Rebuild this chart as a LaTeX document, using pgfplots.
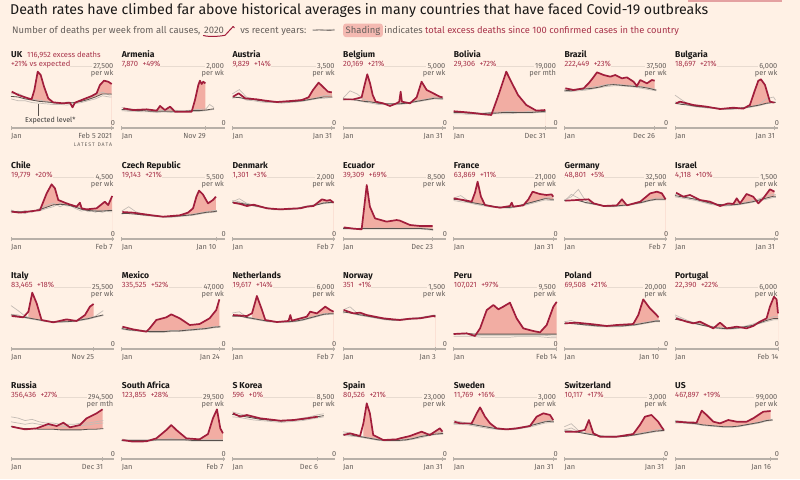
\documentclass[border=0pt]{standalone}
\usepackage{graphicx}
\usepackage{pgfplots}
\usepackage{pgfplotstable}
\pgfplotsset{compat=1.18}
\usepackage{fontspec}
\setmainfont{Fira Sans}
\definecolor{bg}{HTML}{FFF1E5}
\definecolor{curc}{HTML}{A11D3B}
\definecolor{statc}{HTML}{A8334A}
\definecolor{shade}{HTML}{F2ADA3}
\definecolor{expc}{HTML}{57504C}
\definecolor{histc}{HTML}{C4BCB5}
\definecolor{labc}{HTML}{66605C}
\definecolor{basec}{HTML}{B8B0A8}
\definecolor{gridc}{HTML}{E8DBD0}
\definecolor{inkc}{HTML}{1A1817}
\newcommand{\namef}{\fontsize{8.6}{9}\selectfont\bfseries}
\newcommand{\statf}{\fontsize{7.6}{8}\selectfont}
\newcommand{\labf}{\fontsize{7.4}{8}\selectfont}
\newcommand{\subf}{\fontsize{9.45}{11}\selectfont}

\pgfplotsset{panel/.style={
  scale only axis, width=103pt, height=62pt,
  xmin=0, xmax=58.6, ymin=0, ymax=100,
  hide axis, clip=false, anchor=south west}}
\tikzset{lab/.style={inner sep=0pt, text=labc, font=\labf}}

\newcommand{\stdplots}[4]{%
  \draw[gridc, line width=0.6pt] (rel axis cs:0,1) -- (rel axis cs:1,1);
  \addplot[draw=none, fill=shade, restrict x to domain=#3:60] table[x=w,y=c]{#1} \closedcycle;
  \addplot[draw=none, fill=bg] table[x=w,y=e]{#2} \closedcycle;
  \addplot[histc, line width=0.7pt] table[x=w,y=a]{#2};
  \addplot[histc, line width=0.7pt] table[x=w,y=b]{#2};
  \addplot[expc, line width=0.8pt] table[x=w,y=e]{#2};
  \addplot[curc, line width=1.7pt, line join=round] table[x=w,y=c]{#1};
  \draw[basec, line width=1.4pt] (rel axis cs:0,0) -- (rel axis cs:1,0);
  \draw[basec, line width=0.8pt] (axis cs:0,0) ++(0,-2pt) -- ++(0,4.5pt);
  \draw[basec, line width=0.8pt] (axis cs:#4,0) ++(0,-2pt) -- ++(0,4.5pt);
}
% #1 x0, #2 baseline y, #3 end week, #4 end label, #5 cur, #6 hist, #7 shade start, #8 texts
\newcommand{\pax}[8]{%
  \begin{axis}[panel, at={(#1pt,-#2pt)}]
  \stdplots{#5}{#6}{#7}{#3}
  \node[lab, anchor=base west] at ([yshift=-10.3pt]axis cs:0,0) {Jan};
  \node[lab, anchor=base east] at ([xshift=0.6pt,yshift=-10.3pt]axis cs:#3,0) {#4};
  #8
  \end{axis}}
\newcommand{\ptext}[4]{%
  \node[anchor=base west, inner sep=0pt, text=inkc, font=\namef] at ([yshift=71pt]rel axis cs:0,0) {#1};
  \node[anchor=base west, inner xsep=0pt, inner ysep=1pt, fill=bg, text=statc, font=\statf] at ([yshift=62pt]rel axis cs:0,0) {#2};
  \node[lab, anchor=base east, inner xsep=1.5pt, inner ysep=1pt, fill=bg] at ([xshift=1pt,yshift=59.5pt]rel axis cs:1,0) {#3};
  \node[lab, anchor=base east, inner xsep=1.5pt] at ([xshift=1pt,yshift=52.5pt]rel axis cs:1,0) {#4};
  \node[lab, anchor=base] at ([xshift=-1pt,yshift=2.5pt]rel axis cs:1,0) {0};}

% ---------------- data: percent of panel top value; w = weeks since 1 Jan 2020
\pgfplotstableread{
w c
0.4 58.6
4.2 53.2
8 49.5
11.7 46.2
13.3 61.3
15.2 90.9
16.9 85.5
18.8 66.7
21.2 47.8
24 41.4
29.7 39.8
33.5 40.9
35 33.3
36.4 40.9
41.1 46.2
45.9 51.6
48.7 55.9
50.6 69.4
52.9 76.3
55.3 74.7
57.3 71
}\cUK
\pgfplotstableread{
w e a b
0 51 55 47
4 50 56 44
8 47 50 44
12 45 46 41
16 43 45 40
20 42 43 39
24 41 40 38
28 40 39 38
32 40 42 37
36 41 40 39
40 43 44 41
44 46 48 44
48 50 53 47
52 55 58 52
56 55 53 50
57.3 55 54 50
}\hUK
\pgfplotstableread{
w c
0.9 31.7
6.6 29
14.2 30.1
19.9 28
21.8 35.5
24.6 29
27.5 34.4
30.3 26.3
35.1 26.3
39.8 26.3
41.7 45.2
43.6 69.4
44.5 76.3
45.5 71
46.4 74.7
47.6 72
}\cARM
\pgfplotstableread{
w e a b
0 30 33 28
4 29 31 27
8 28 30 27
12 28 29 26
16 27 28 26
20 27 29 25
24 27 28 26
28 27 30 25
32 27 28 26
36 27 28 26
40 28 29 27
44 28 30 27
48 29 31 28
50 30 38 29
52.5 31 33 30
}\hARM
\pgfplotstableread{
w c
0.4 50.5
3.6 55.9
7.4 47.8
14 46.2
18.8 44.1
25.4 41.9
33 43.5
39.6 45.2
43.4 49.5
45.9 61.3
49.1 73.1
51.5 66.7
54.4 58.6
56.6 57.5
}\cAUT
\pgfplotstableread{
w e a b
0 50 55 48
4 49 62 50
8 47 50 45
12 46 47 44
16 44 44 42
20 43 43 41
24 42 41 41
28 42 42 40
32 42 43 41
36 43 42 42
40 44 44 43
44 46 46 45
48 48 49 47
52 50 52 48
56 50 53 49
57 50 53 49
}\hAUT
\pgfplotstableread{
w c
0.2 46.2
5.9 46.2
10.6 49.5
12.5 72
13.8 86.6
15.4 72
16.9 53.2
18.6 42.5
22.9 39.8
26.7 35.5
30.5 39.8
32 42.5
32.8 58.6
33.5 42.5
38.1 39.8
41.9 49.5
44.7 74.7
47.6 61.3
51.4 55.9
55.1 50.5
56.6 49.5
}\cBEL
\pgfplotstableread{
w e a b
0 47 48 45
4 46 60 47
8 45 55 44
12 43 46 42
16 42 42 40
20 40 40 38
24 39 39 38
28 39 38 37
32 39 41 38
36 40 40 39
40 42 43 41
44 44 45 43
48 46 47 45
52 48 50 47
56 48 50 46
57 48 50 46
}\hBEL
\pgfplotstableread{
w c
0 27
4.3 26
8.7 25
13 23.5
17.4 22
21.4 21
25.7 55
29.9 90.9
33.2 72
36.6 53.2
41.3 37.1
47 28
52.1 29
}\cBOL
\pgfplotstableread{
w e a b
0 25 27 23
4 25 26 23
8 24 25 22
12 24 25 22
16 23 24 22
20 24 25 22
24 24 26 23
28 25 26 23
32 25 27 23
36 25 26 24
40 25 26 24
44 25 27 24
48 26 27 25
52.3 27 28 25
}\hBOL
\pgfplotstableread{
w c
0.6 64
5.3 61.3
11 64
13.8 72
16.1 80.1
18.6 89.8
22.4 85.5
26.2 82.8
29 85.5
32.8 80.1
35.6 81.7
39.4 74.7
41.3 67.7
43.2 77.4
47 72
49.8 77.4
51.4 76.3
}\cBRA
\pgfplotstableread{
w e a b
0 61 63 59
4 60 62 59
8 62 63 60
12 63 64 61
16 64 66 63
20 66 68 65
24 69 70 67
28 70 71 68
32 69 70 68
36 68 69 67
40 67 68 66
44 66 67 64
48 64 65 62
52.3 61 62 60
}\hBRA
\pgfplotstableread{
w c
0.6 39.8
2.8 42.5
10.4 37.1
18 34.4
25.6 30.6
33.2 32.8
38.8 31.2
42.6 37.1
45.5 61.3
47.4 76.3
48.9 78.5
51.2 69.4
54 42.5
56.6 40.9
}\cBUL
\pgfplotstableread{
w e a b
0 40 53 42
4 38 45 40
8 37 38 36
12 35 35 34
16 34 33 33
20 33 32 32
24 32 31 31
28 31 30 30
32 31 31 30
36 32 31 31
40 33 33 32
44 35 35 34
48 37 38 36
52 40 47 39
56 41 50 42
57.2 41 45 42
}\hBUL
\pgfplotstableread{
w c
0.4 44.1
5.1 42.5
12.7 45.2
16.5 46.8
20.3 73.7
23.1 88.2
25 81.7
26.9 62.9
31.6 57.5
37.3 52.2
39.2 58.6
40.2 49.5
43 47.8
48.7 49.5
53.4 60.2
55.3 54.8
57.6 69.4
}\cCHL
\pgfplotstableread{
w e a b
0 45 47 42
4 44 42 45
8 44 46 41
12 45 43 46
16 47 49 45
20 51 54 49
24 55 58 52
28 56 52 58
32 55 58 53
36 52 50 54
40 48 45 49
44 46 48 44
48 45 43 46
52 45 47 43
56 46 44 47
57.6 46 44 47
}\hCHL
\pgfplotstableread{
w c
0.4 43.5
6.4 42.5
15.9 38.7
23.5 36
33 38.2
37.7 42.5
40.6 49.5
42.5 68.3
44 78
46.2 72
49.1 57.5
51.9 62.9
53.6 68.3
}\cCZE
\pgfplotstableread{
w e a b
0 41 45 40
4 41 52 43
8 40 44 41
12 39 40 38
16 38 38 37
20 37 37 36
24 36 36 35
28 36 36 35
32 37 37 36
36 38 38 37
40 39 40 38
44 41 42 40
48 43 44 42
52 44 46 43
54.2 45 46 44
}\hCZE
\pgfplotstableread{
w c
0.4 58.6
4.5 56.5
8.3 53.2
12.1 55.4
19.7 49.5
27.3 47.8
33 48.9
38.7 49.5
42.4 52.2
46.2 53.2
51 64
53.8 61.8
55.7 62.9
57.6 58.6
}\cDEN
\pgfplotstableread{
w e a b
0 59 60 62
4 58 65 60
8 56 58 57
12 54 55 53
16 52 52 51
20 50 50 49
24 48 48 47
28 48 47 47
32 48 47 48
36 49 49 48
40 51 52 50
44 53 54 52
48 55 56 55
52 58 59 57
56 59 60 58
57.6 59 60 58
}\hDEN
\pgfplotstableread{
w c
0.4 18.8
5.9 16.7
10.6 15.6
12.1 52.2
13.5 87.1
15.3 52.2
18.2 33.3
24.8 28
30.5 30.6
32.4 29.6
38.1 22.6
43.8 21
51 21
}\cECU
\pgfplotstableread{
w e a b
0 17 18 16
4 17 18 16
8 17 17 16
12 17 18 16
16 17 17 16
20 17 18 16
24 17 17 16
28 17 18 16
32 17 17 16
36 17 18 16
40 17 17 16
44 17 18 16
48 16 17 15
51.3 15 16 14
}\hECU
\pgfplotstableread{
w c
0 65.6
5.5 62.9
10.2 60.2
12.1 74.7
13.6 92.5
15.5 68.3
17.8 54.8
22.5 52.2
26.3 50.5
32 53.2
33 58.6
33.9 52.2
39.6 54.3
42.5 64
44.9 76.3
49 72.6
52.8 71
55.7 72
56.6 68.3
}\cFRA
\pgfplotstableread{
w e a b
0 64 66 62
4 63 70 60
8 60 62 59
12 58 57 56
16 56 55 54
20 54 53 52
24 52 51 51
28 51 51 50
32 51 50 50
36 53 52 52
40 56 55 54
44 59 58 57
48 62 62 60
52 65 66 63
56 64 68 62
57 64 68 62
}\hFRA
\pgfplotstableread{
w c
0.6 61.8
7.2 62.9
13.8 64
16.7 57.5
22.4 53.2
29.9 54.3
32.8 64
35.6 54.3
43.2 60.2
48.9 73.7
52.7 76.3
55.5 73.7
57.6 64
}\cGER
\pgfplotstableread{
w e a b
0 62 63 61
4 62 68 72
8 62 80 66
12 59 62 58
16 57 57 56
20 55 55 54
24 53 53 52
28 53 53 52
32 54 54 53
36 55 55 54
40 57 57 56
44 59 60 58
48 62 63 61
52 64 66 63
56 64 66 63
57.6 64 66 63
}\hGER
\pgfplotstableread{
w c
0.6 74.7
4.7 68.3
8.5 71
14.2 62.9
19.9 60.2
25.6 53.2
30.3 57.5
33.2 56.5
35.1 65.6
37 57.5
40.7 72.6
44.5 68.3
47.4 57.5
50.2 65.6
54 80.1
56.6 76.3
}\cISR
\pgfplotstableread{
w e a b
0 70 72 68
4 68 70 66
8 66 67 64
12 64 63 62
16 61 60 59
20 58 57 56
24 56 55 54
28 55 54 53
32 55 55 54
36 56 57 55
40 58 59 57
44 60 62 59
48 63 65 62
52 66 69 64
56 69 72 67
57.4 69 72 67
}\hISR
\pgfplotstableread{
w c
0.4 53.2
7 51.1
9.9 60.2
12.1 90.9
14.6 73.7
17.4 46.8
24.1 43
31.6 47.8
37.3 45.2
42.1 54.8
44.9 68.3
47 72.6
}\cITA
\pgfplotstableread{
w e a b
0 55 70 56
4 53 62 55
8 51 53 50
12 49 49 48
16 47 47 46
20 45 45 44
24 44 44 43
28 44 43 43
32 44 45 44
36 45 46 44
40 47 48 46
44 49 50 48
48 52 53 51
52.5 55 62 54
}\hITA
\pgfplotstableread{
w c
0.4 36
6.4 31.7
14 28
15.9 33.3
19.7 46.8
25.4 51.1
28.2 55.9
33 49.5
38.7 38.7
44.3 40.3
50 49.5
53.8 62.9
55.6 80.1
}\cMEX
\pgfplotstableread{
w e a b
0 33 35 32
4 31 33 30
8 30 31 29
12 29 30 28
16 28 29 27
20 28 29 27
24 28 29 27
28 29 30 28
32 29 30 28
36 30 31 29
40 31 32 30
44 32 33 31
48 33 34 32
52 35 36 34
56.1 36 37 35
}\hMEX
\pgfplotstableread{
w c
0.4 54.8
8.3 53.2
11.2 57.5
14 85.5
16.9 62.9
18.8 46.8
25.4 43.5
32 45.2
33 54.8
33.9 45.7
42.4 52.2
44.3 60.2
48.1 57.5
52.9 68.3
55.7 62.9
57.6 60.2
}\cNED
\pgfplotstableread{
w e a b
0 53 58 54
4 53 60 55
8 51 52 50
12 49 50 48
16 47 47 46
20 45 45 44
24 44 44 43
28 44 43 43
32 44 44 43
36 45 46 44
40 47 48 46
44 50 51 49
48 53 54 52
52 56 57 55
56 57 58 56
57.6 57 58 56
}\hNED
\pgfplotstableread{
w c
0.4 62.9
5.9 57.5
9.7 58.6
13.5 54.8
22.9 49.5
28.6 47.8
32.4 46.8
38.1 48.9
43.8 49.5
51.3 53.2
52.6 52.2
}\cNOR
\pgfplotstableread{
w e a b
0 60 63 58
4 58 68 60
8 56 58 55
12 54 55 53
16 52 53 51
20 50 51 49
24 48 49 47
28 47 48 46
32 47 48 46
36 48 49 47
40 49 50 48
44 50 51 49
48 52 53 51
52 54 55 53
52.6 54 55 53
}\hNOR
\pgfplotstableread{
w c
0 24.2
7.4 25.3
12.1 21
15 33.3
18.8 62.9
22.6 71
25.4 64
28.2 68.3
32 74.7
35.8 49.5
39.6 33.3
45.3 29
49.1 26.9
52.9 38.7
56.7 68.3
58.6 76
}\cPER
\pgfplotstableread{
w e a b
0 25 23 20
4 25 23 20
8 25 23 20
12 24 22 20
16 24 22 19
20 24 22 19
24 24 22 19
28 24 22 19
32 24 22 19
36 24 22 20
40 24 22 20
44 24 22 20
48 24 22 20
52 24 22 19
56 24 21 18
58.6 24 21 18
}\hPER
\pgfplotstableread{
w c
0.4 41.4
7 42.5
16.5 39.8
24.1 37.1
29.8 38.7
39.2 40.3
42.1 54.8
44.9 80.1
48.7 65.6
52.5 54.8
53.6 51.1
}\cPOL
\pgfplotstableread{
w e a b
0 41 44 40
4 41 46 42
8 40 42 40
12 39 40 38
16 38 38 37
20 37 37 36
24 37 36 36
28 37 36 36
32 37 37 36
36 38 38 37
40 39 40 38
44 41 42 40
48 43 44 42
52 45 46 44
54.4 45 46 44
}\hPOL
\pgfplotstableread{
w c
0.6 49.5
6.6 44.1
10.4 41.4
14.2 44.1
18 38.7
21.8 33.3
25.6 42.5
29.4 33.3
35.1 36
40.7 33.3
44.5 37.1
48.3 44.1
52.1 49.5
54 68.3
56.3 84.4
57.8 80.1
58.6 57.5
}\cPOR
\pgfplotstableread{
w e a b
0 48 55 52
4 46 50 48
8 44 45 43
12 41 42 40
16 38 39 38
20 36 37 35
24 34 35 33
28 33 34 32
32 33 34 32
36 34 35 33
40 36 37 35
44 38 40 38
48 42 44 41
52 46 48 44
56 49 52 47
58.6 49 52 47
}\hPOR
\pgfplotstableread{
w c
0.4 52.2
8 47.8
14.6 49.5
21.2 56.5
26 53.2
29.8 58.6
33.5 51.1
39.2 54.8
43 65.6
48.7 73.7
52.1 80.1
}\cRUS
\pgfplotstableread{
w e a b
0 53 68 60
4 50 66 58
8 49 62 56
12 49 64 58
16 48 60 56
20 48 58 54
24 48 58 54
28 47 56 53
32 47 56 52
36 47 56 52
40 47 58 54
44 48 58 55
48 48 60 57
52.5 49 62 58
}\hRUS
\pgfplotstableread{
w c
0.4 30.6
6.4 28
14 28.5
19.7 33.3
25.4 46.8
28.2 54.8
31.1 46.8
36.8 33.3
44.3 31.7
49.1 40.3
51.9 65.6
54.2 80.1
56.1 49.5
57.6 41.4
}\cZAF
\pgfplotstableread{
w e a b
0 30 32 29
4 30 31 29
8 30 31 29
12 30 31 29
16 30 31 29
20 31 32 30
24 31 32 30
28 31 33 30
32 31 32 30
36 31 32 30
40 30 31 29
44 30 31 29
48 30 31 29
52 30 31 29
56 30 31 29
57.6 30 31 29
}\hZAF
\pgfplotstableread{
w c
0.4 73.7
4.5 68.3
8.3 71
15.9 65.6
27.3 61.8
34.9 62.9
42.4 65.6
48.6 68.3
}\cKOR
\pgfplotstableread{
w e a b
0 72 76 68
4 70 73 67
8 68 70 65
12 66 67 63
16 64 65 62
20 63 63 61
24 62 62 60
28 61 62 59
32 62 63 60
36 63 64 61
40 64 66 62
44 66 68 64
48 68 71 66
52 70 73 68
}\hKOR
\pgfplotstableread{
w c
0.4 38.7
4 41.4
9.7 37.1
11.6 57.5
13.5 89.8
15.3 73.7
17.2 38.7
22.9 30.6
30.5 31.7
32.4 33.3
38.1 37.1
44.7 44.1
49.4 38.7
55.1 49.5
56.6 44.1
}\cESP
\pgfplotstableread{
w e a b
0 40 44 38
4 39 42 37
8 37 38 36
12 35 36 34
16 33 34 32
20 31 32 30
24 30 31 29
28 30 32 29
32 30 31 29
36 31 32 30
40 33 34 32
44 36 37 34
48 38 40 37
52 40 43 39
56 41 43 40
57 41 43 40
}\hESP
\pgfplotstableread{
w c
0.4 60.2
3.6 57.5
10.2 57.5
13.1 73.7
15 83.3
17.8 68.3
20.7 57.5
24.4 49.5
30.1 47.8
35.8 49.5
43.4 53.2
47.2 68.3
51 73.7
54.8 71
56.6 62.9
}\cSWE
\pgfplotstableread{
w e a b
0 58 62 56
4 58 60 56
8 57 58 55
12 55 56 53
16 53 54 51
20 51 52 49
24 49 50 48
28 48 49 47
32 48 49 47
36 49 50 48
40 51 52 50
44 54 55 52
48 57 58 55
52 60 61 58
56 61 63 59
57 61 63 59
}\hSWE
\pgfplotstableread{
w c
0.4 44.1
7 44.1
11.7 46.8
14 62.9
16.5 41.4
20.3 36
29.8 36
39.2 40.3
43 54.8
45.9 68.3
49.6 71
53.4 60.2
55.5 51
56.6 46.8
}\cSUI
\pgfplotstableread{
w e a b
0 45 52 47
4 45 57 50
8 43 46 44
12 41 42 41
16 39 40 39
20 37 38 37
24 36 37 36
28 36 37 35
32 36 37 36
36 37 38 37
40 39 40 38
44 41 42 40
48 43 44 42
52 45 47 44
56 46 48 45
57 46 48 45
}\hSUI
\pgfplotstableread{
w c
0.6 60.2
6.6 59.1
12.3 58.6
15.2 78
18 71
21.8 60.2
25.6 57.5
30.3 62.9
35.1 60.2
40.7 60.2
44.5 65.6
50.2 76.3
54.4 77.4
}\cUSA
\pgfplotstableread{
w e a b
0 60 62 58
4 59 61 58
8 58 59 57
12 57 57 56
16 55 55 54
20 54 54 53
24 53 53 52
28 52 52 51
32 52 52 51
36 53 53 52
40 55 55 54
44 57 57 56
48 59 60 58
52 62 63 61
55.5 63 64 62
}\hUSA

\begin{document}
\begin{tikzpicture}[x=1pt,y=1pt]
\fill[bg] (0,0) rectangle (800,-479);
\useasboundingbox (0,0) rectangle (800,-479);
\fill[shade!75!curc!80] (688,0) rectangle (782,-1.5);

% title
\node[anchor=base west, inner sep=0pt, text=inkc] at (10,-14.5)
 {\resizebox{698pt}{!}{\fontsize{12}{14}\selectfont Death rates have climbed far above historical averages in many countries that have faced Covid-19 outbreaks}};
% subtitle
\node[anchor=base west, inner sep=0pt, font=\subf, text=labc] (s1) at (12,-33) {Number of deaths per week from all causes,};
\node[anchor=base west, inner sep=0pt, font=\subf, text=labc] (s2) at ([xshift=3.3pt]s1.base east) {2020};
\draw[curc, line width=1pt, line cap=round, line join=round]
 ([xshift=-0.5pt,yshift=-2.5pt]s2.base west) .. controls +(6pt,-1.8pt) and +(-4pt,-1pt) .. ([xshift=1pt,yshift=-2.2pt]s2.base east)
 -- ([xshift=9pt,yshift=6.5pt]s2.base east) -- ++(1.2pt,-1.2pt);
\node[anchor=base west, inner sep=0pt, font=\subf, text=labc] (s3) at ([xshift=16pt]s2.base east) {vs recent years:};
\draw[histc, line width=0.6pt] ([xshift=6pt,yshift=2.2pt]s3.base east) .. controls +(6pt,2.5pt) and +(-6pt,-2pt) .. ++(22pt,1.2pt);
\draw[histc, line width=0.6pt] ([xshift=6pt,yshift=3.4pt]s3.base east) .. controls +(8pt,-1.5pt) and +(-5pt,0pt) .. ++(22pt,0.4pt);
\draw[expc, line width=0.6pt] ([xshift=7pt,yshift=2.8pt]s3.base east) .. controls +(7pt,1pt) and +(-6pt,-1pt) .. ++(21pt,0.2pt);
\node[anchor=base west, inner xsep=2.5pt, inner ysep=2pt, rounded corners=2.5pt, fill=shade!85, font=\subf, text=labc] (s4) at (343,-33) {Shading};
\node[anchor=base west, inner sep=0pt, font=\fontsize{9.3}{11}\selectfont, text=labc] at ([xshift=1.2pt]s4.base east) {indicates \textcolor{statc}{total excess deaths since 100 confirmed cases in the country}};

% ---------- row 1
\pax{11}{128}{57.3}{Feb 5 2021}{\cUK}{\hUK}{10.5}{\ptext{UK}{+21\% vs expected}{27,500}{per wk}
  \node[anchor=base west, inner sep=0pt, text=statc, font=\statf] at ([xshift=16pt,yshift=71pt]rel axis cs:0,0) {116,952 excess deaths};
  \node[anchor=base west, inner sep=0pt, text=inkc!85, font=\fontsize{7.2}{8}\selectfont] at ([xshift=14pt,yshift=5.5pt]rel axis cs:0,0) {Expected level*};
  \draw[expc, line width=0.6pt] ([xshift=27.3pt,yshift=12.5pt]rel axis cs:0,0) -- ++(0,11.5pt);
  \node[lab, anchor=base east, font=\fontsize{5.2}{6}\selectfont] at ([xshift=0.6pt,yshift=-18pt]axis cs:57.3,0) {L\,A\,T\,E\,S\,T\ \ D\,A\,T\,A};}
\pax{121.7}{128}{47.6}{Nov 29}{\cARM}{\hARM}{11}{\ptext{Armenia}{7,870\hspace{0.6em}+49\%}{2,000}{per wk}}
\pax{232.3}{128}{56.6}{Jan 31}{\cAUT}{\hAUT}{10}{\ptext{Austria}{9,829\hspace{0.6em}+14\%}{3,500}{per wk}}
\pax{343}{128}{56.6}{Jan 31}{\cBEL}{\hBEL}{10}{\ptext{Belgium}{20,169\hspace{0.6em}+21\%}{5,000}{per wk}}
\pax{453.7}{128}{52.1}{Dec 31}{\cBOL}{\hBOL}{12}{\ptext{Bolivia}{29,306\hspace{0.6em}+72\%}{19,000}{per mth}}
\pax{564.3}{128}{51.4}{Dec 26}{\cBRA}{\hBRA}{11}{\ptext{Brazil}{222,449\hspace{0.6em}+23\%}{37,500}{per wk}}
\pax{675}{128}{56.6}{Jan 31}{\cBUL}{\hBUL}{10}{\ptext{Bulgaria}{18,697\hspace{0.6em}+21\%}{6,000}{per wk}}
% ---------- row 2
\pax{11}{239}{57.6}{Feb 7}{\cCHL}{\hCHL}{11}{\ptext{Chile}{19,779\hspace{0.6em}+20\%}{4,500}{per wk}}
\pax{121.7}{239}{53.6}{Jan 10}{\cCZE}{\hCZE}{10}{\ptext{Czech Republic}{19,143\hspace{0.6em}+21\%}{5,500}{per wk}}
\pax{232.3}{239}{57.6}{Feb 7}{\cDEN}{\hDEN}{10}{\ptext{Denmark}{1,301\hspace{0.6em}+3\%}{2,000}{per wk}}
\pax{343}{239}{51}{Dec 23}{\cECU}{\hECU}{10.5}{\ptext{Ecuador}{39,309\hspace{0.6em}+69\%}{8,500}{per wk}}
\pax{453.7}{239}{56.6}{Jan 31}{\cFRA}{\hFRA}{10}{\ptext{France}{63,869\hspace{0.6em}+11\%}{21,000}{per wk}}
\pax{564.3}{239}{57.6}{Feb 7}{\cGER}{\hGER}{10}{\ptext{Germany}{48,801\hspace{0.6em}+5\%}{32,500}{per wk}}
\pax{675}{239}{56.6}{Jan 31}{\cISR}{\hISR}{10}{\ptext{Israel}{4,118\hspace{0.6em}+10\%}{1,500}{per wk}}
% ---------- row 3
\pax{11}{349}{47}{Nov 25}{\cITA}{\hITA}{8}{\ptext{Italy}{83,465\hspace{0.6em}+18\%}{25,500}{per wk}}
\pax{121.7}{349}{55.6}{Jan 24}{\cMEX}{\hMEX}{11}{\ptext{Mexico}{335,525\hspace{0.6em}+52\%}{47,000}{per wk}}
\pax{232.3}{349}{57.6}{Feb 7}{\cNED}{\hNED}{10}{\ptext{Netherlands}{19,617\hspace{0.6em}+14\%}{6,000}{per wk}}
\pax{343}{349}{52.6}{Jan 3}{\cNOR}{\hNOR}{10}{\ptext{Norway}{351\hspace{0.6em}+1\%}{1,500}{per wk}}
\pax{453.7}{349}{58.6}{Feb 14}{\cPER}{\hPER}{11}{\ptext{Peru}{107,021\hspace{0.6em}+97\%}{9,500}{per wk}}
\pax{564.3}{349}{53.6}{Jan 10}{\cPOL}{\hPOL}{10}{\ptext{Poland}{69,508\hspace{0.6em}+21\%}{20,000}{per wk}}
\pax{675}{349}{58.6}{Feb 14}{\cPOR}{\hPOR}{10}{\ptext{Portugal}{22,390\hspace{0.6em}+22\%}{6,000}{per wk}}
% ---------- row 4
\pax{11}{459}{52.1}{Dec 31}{\cRUS}{\hRUS}{11}{\ptext{Russia}{356,436\hspace{0.6em}+27\%}{294,500}{per mth}}
\pax{121.7}{459}{57.6}{Feb 7}{\cZAF}{\hZAF}{11}{\ptext{South Africa}{123,855\hspace{0.6em}+28\%}{29,500}{per wk}}
\pax{232.3}{459}{48.6}{Dec 6}{\cKOR}{\hKOR}{7}{\ptext{S Korea}{596\hspace{0.6em}+0\%}{8,500}{per wk}}
\pax{343}{459}{56.6}{Jan 31}{\cESP}{\hESP}{10}{\ptext{Spain}{80,526\hspace{0.6em}+21\%}{23,000}{per wk}}
\pax{453.7}{459}{56.6}{Jan 31}{\cSWE}{\hSWE}{10}{\ptext{Sweden}{11,769\hspace{0.6em}+16\%}{3,000}{per wk}}
\pax{564.3}{459}{56.6}{Jan 31}{\cSUI}{\hSUI}{10}{\ptext{Switzerland}{10,117\hspace{0.6em}+17\%}{3,000}{per wk}}
\pax{675}{459}{54.4}{Jan 16}{\cUSA}{\hUSA}{10}{\ptext{US}{467,897\hspace{0.6em}+19\%}{99,000}{per wk}}
\end{tikzpicture}
\end{document}
